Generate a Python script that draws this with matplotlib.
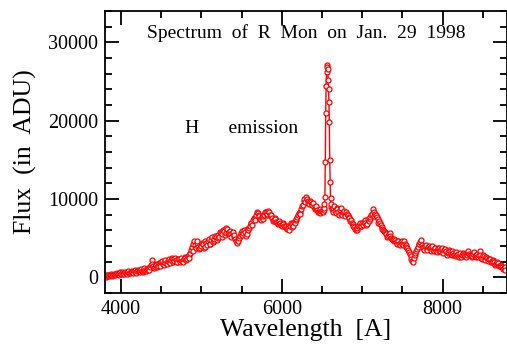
import numpy as np
import matplotlib
matplotlib.use('AGG')
import matplotlib.pyplot as plt
from matplotlib.ticker import MultipleLocator

# wavelength grid (A): 10 A steps in the continuum, 5 A steps across H-alpha
wl_blue = np.arange(3800, 6501, 20)
wl_blue_mid = np.arange(3810, 6511, 20)
wl_core = np.arange(6520, 6621, 5)
wl_red = np.arange(6640, 8781, 20)
wl_red_mid = np.arange(6630, 8771, 20)

flux_blue = [
    250, 180, 320, 280, 350, 300, 420, 380, 450, 500,
    480, 560, 420, 600, 650, 580, 700, 620, 750, 700,
    820, 760, 900, 850, 780, 1000, 950, 1100, 1300, 2250,
    1500, 1350, 1600, 1500, 1750, 1900, 1700, 2000, 1850, 2100,
    2000, 2200, 2350, 2100, 2250, 2000, 2300, 2150, 2050, 2300,
    2500, 2400, 2800, 3100, 3900, 4300, 4100, 4400, 3900, 3700,
    4000, 4200, 3900, 4400, 4600, 4300, 4800, 4500, 4900, 5100,
    5400, 5100, 5600, 5500, 5900, 5700, 6200, 5800, 5500, 5600,
    5200, 4900, 4400, 4700, 5300, 5900, 5600, 5800, 5500, 6000,
    6600, 7000, 7300, 7600, 7900, 8200, 7800, 7300, 7500, 8000,
    8400, 8100, 8300, 7800, 7600, 7300, 7500, 7100, 6900, 7000,
    6600, 6800, 6400, 6200, 6300, 6500, 6800, 6600, 7000, 7400,
    7900, 8400, 8700, 9200, 10000, 10300, 9800, 9400, 9600, 9200,
    9000, 8800, 8600, 8400, 8200, 8500,
]
flux_blue_mid = [
    100, 350, 150, 420, 200, 480, 250, 550, 300, 620,
    650, 380, 700, 450, 800, 500, 850, 550, 900, 600,
    1000, 650, 1100, 700, 1200, 800, 1250, 900, 1600, 1700,
    1200, 1700, 1300, 1800, 1450, 2100, 1550, 2250, 1700, 2350,
    1850, 2450, 1950, 2500, 1900, 2400, 1950, 2450, 1900, 2600,
    2200, 2700, 2500, 3500, 3400, 4600, 3800, 4700, 3600, 4100,
    4400, 3800, 4600, 4100, 4900, 4200, 5100, 4600, 5300, 4800,
    5000, 5800, 5200, 6100, 5400, 6300, 5600, 5900, 5200, 5800,
    5400, 4600, 4800, 5000, 5600, 5400, 6000, 5300, 6200, 6300,
    6900, 6700, 7600, 7300, 8300, 7900, 7400, 7700, 7800, 8300,
    8000, 8500, 7900, 8000, 7200, 7600, 7100, 6800, 7200, 6700,
    6900, 6500, 6600, 6500, 6100, 6900, 6400, 7100, 7300, 7700,
    8200, 8100, 9100, 9700, 9600, 10000, 9500, 9800, 9300, 9500,
    8700, 9100, 8300, 8700, 8500, 8400,
]
flux_core = [
    8600, 8900, 9300, 10300, 14700, 21000, 24400, 26200, 27100, 26900,
    26600, 25200, 24000, 22400, 19800, 15000, 12200, 10100, 9000, 9300,
    8700,
]
flux_red = [
    8800, 8500, 8900, 8300, 8600, 8100, 8400, 8000, 8300, 7900,
    7600, 7300, 6800, 6400, 6100, 6300, 6700, 6500, 6900, 7100,
    7000, 6800, 7200, 7700, 8100, 8400, 8100, 7700, 7400, 7000,
    6400, 6100, 5800, 5500, 5300, 5600, 5000, 4800, 4900, 4500,
    4700, 4300, 4500, 4200, 4600, 4100, 3700, 3200, 2700, 2100,
    2500, 3100, 3600, 4200, 4500, 4100, 3700, 4000, 3600, 3900,
    3700, 3900, 3500, 3800, 3400, 3700, 3300, 3600, 3200, 3500,
    3300, 3100, 3500, 3000, 3300, 2800, 3200, 2900, 2600, 3100,
    2800, 3000, 2700, 2900, 3400, 2800, 2600, 3000, 2700, 2900,
    2600, 3300, 2500, 2800, 2300, 2600, 2100, 2400, 2000, 2200,
    1900, 1700, 2000, 1500, 1600, 1300, 1200, 1000,
]
flux_red_mid = [
    8400, 9100, 8200, 8700, 8000, 8800, 7900, 8500, 7800, 8100,
    7700, 7200, 7000, 6600, 6200, 6000, 6600, 6900, 6600, 6700,
    7300, 6700, 7400, 7400, 8000, 8700, 7800, 7900, 7000, 7200,
    6700, 6200, 5900, 5600, 5200, 5500, 5300, 4900, 4600, 4800,
    4300, 4600, 4100, 4700, 4100, 4300, 3900, 3500, 3000, 2400,
    1900, 2800, 3300, 3900, 4300, 4800, 3900, 3500, 4100, 3500,
    4000, 3400, 4000, 3300, 3700, 3200, 3800, 3400, 3700, 3100,
    3600, 2900, 3200, 3300, 2800, 3100, 3000, 2700, 3000, 2800,
    2600, 3100, 2900, 2600, 3100, 3000, 2900, 2700, 3200, 2600,
    3000, 2800, 2900, 2400, 2700, 2200, 2500, 2300, 2300, 1900,
    2100, 1600, 1800, 1800, 1400, 1500, 1100, 1300,
]

wl = np.concatenate([wl_blue, wl_blue_mid, wl_core, wl_red, wl_red_mid])
flux = np.array(flux_blue + flux_blue_mid + flux_core + flux_red + flux_red_mid)
order = np.argsort(wl, kind='stable')
wl = wl[order]
flux = flux[order]

plt.rcParams['font.family'] = ['Liberation Serif', 'DejaVu Serif']

fig = plt.figure(figsize=(5.07, 3.45), dpi=100)
ax = fig.add_axes([0.2071, 0.1507, 0.7929, 0.8174])

ax.plot(wl, flux, '-', color='red', lw=1.0, marker='o', ms=3.6,
        mfc='white', mec='red', mew=0.9)

ax.set_xlim(3800, 8800)
ax.set_ylim(-2000, 34000)
ax.xaxis.set_major_locator(MultipleLocator(2000))
ax.xaxis.set_minor_locator(MultipleLocator(500))
ax.yaxis.set_major_locator(MultipleLocator(10000))
ax.yaxis.set_minor_locator(MultipleLocator(2000))
ax.tick_params(which='both', direction='in', top=True, right=True,
               width=1.3, labelsize=14.5)
ax.tick_params(which='major', length=10, pad=5)
ax.tick_params(which='minor', length=5)
for s in ax.spines.values():
    s.set_linewidth(1.3)

ax.set_xlabel('Wavelength  [A]', fontsize=18.5, labelpad=0)
ax.set_ylabel('Flux  (in  ADU)', fontsize=18.5, labelpad=8)

ax.text(0.5, 0.922, 'Spectrum  of  R  Mon  on  Jan.  29  1998',
        transform=ax.transAxes, ha='center', va='center', fontsize=14)
ax.text(0.198, 0.585, 'H      emission', transform=ax.transAxes,
        ha='left', va='center', fontsize=14)

fig.savefig('out.png', dpi=100)
